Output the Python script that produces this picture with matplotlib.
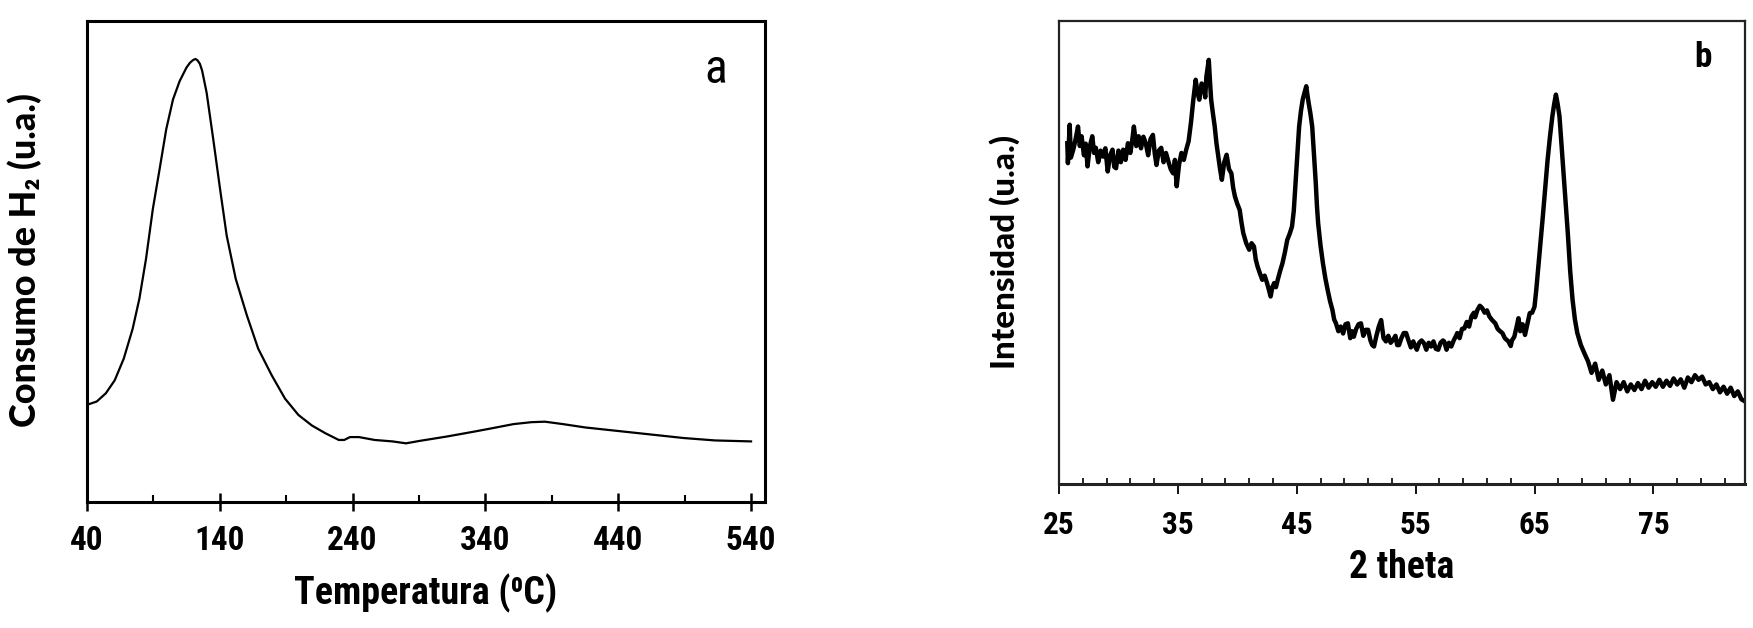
import matplotlib
matplotlib.use("Agg")
import matplotlib.pyplot as plt
from matplotlib import font_manager as fm
from matplotlib.ft2font import FT2Font
from matplotlib.textpath import TextPath
from matplotlib.ticker import MultipleLocator

# (a) TPR: temperatura (C) vs consumo de H2 (u.a.)
temp = [40, 47.4, 54.2, 60.9, 67.7, 74.4, 79.5, 84.5, 89.6, 94.7, 99.7, 104.8,
        109.8, 114.9, 117.5, 120, 121.7, 123.3, 125, 126.7, 130.1, 135.1, 140.2,
        145.2, 152, 160.4, 168.9, 179, 189.1, 199.2, 209.4, 219.5, 229.6, 233.7,
        238, 244.8, 256.6, 270.1, 280.2, 290.3, 310.6, 330.8, 344.3, 361.2,
        374.7, 384.8, 398.3, 415.2, 438.8, 465.8, 489.4, 513, 540]
h2 = [0.202, 0.209, 0.226, 0.253, 0.298, 0.360, 0.423, 0.506, 0.609, 0.692,
      0.775, 0.837, 0.875, 0.903, 0.913, 0.919, 0.921, 0.918, 0.911, 0.897,
      0.851, 0.754, 0.651, 0.554, 0.464, 0.388, 0.319, 0.264, 0.215, 0.181,
      0.159, 0.143, 0.129, 0.129, 0.135, 0.135, 0.129, 0.126, 0.122, 0.127,
      0.136, 0.146, 0.153, 0.162, 0.166, 0.167, 0.162, 0.155, 0.148, 0.140,
      0.133, 0.128, 0.126]

# (b) DRX: 2 theta vs intensidad (u.a.)
two_theta = [25.7, 25.75, 25.9, 26.0, 26.2, 26.4, 26.6, 26.75, 26.9, 27.1, 27.25,
             27.4, 27.6, 27.8, 27.95, 28.1, 28.3, 28.5, 28.7, 28.9, 29.1, 29.3,
             29.5, 29.65, 29.8, 30.0, 30.2, 30.4, 30.6, 30.8, 31.0, 31.15, 31.3,
             31.5, 31.7, 31.9, 32.1, 32.3, 32.5, 32.7, 32.9, 33.05, 33.2, 33.4,
             33.6, 33.8, 34.0, 34.2, 34.4, 34.6, 34.75, 34.9, 35.1, 35.3, 35.5,
             35.7, 35.9, 36.1, 36.3, 36.5, 36.65, 36.8, 37.0, 37.2, 37.3, 37.4,
             37.6, 37.7, 37.8, 37.95, 38.1, 38.25, 38.4, 38.55, 38.7, 38.9, 39.1,
             39.3, 39.5, 39.65, 39.8, 40.0, 40.2, 40.35, 40.5, 40.75, 41.0, 41.2,
             41.4, 41.55, 41.7, 41.9, 42.1, 42.3, 42.5, 42.65, 42.8, 42.95, 43.1,
             43.25, 43.4, 43.6, 43.8, 44.0, 44.2, 44.4, 44.6, 44.75, 44.9, 45.05,
             45.2, 45.35, 45.5, 45.65, 45.8, 45.9, 46.0, 46.15, 46.3, 46.45, 46.6,
             46.7, 46.8, 47.0, 47.2, 47.4, 47.6, 47.8, 48.0, 48.15, 48.3, 48.5,
             48.7, 48.9, 49.1, 49.3, 49.5, 49.65, 49.8, 50.0, 50.2, 50.4, 50.6,
             50.8, 51.0, 51.2, 51.35, 51.5, 51.7, 51.9, 52.1, 52.3, 52.5, 52.7,
             52.9, 53.1, 53.3, 53.45, 53.6, 53.8, 54.0, 54.2, 54.4, 54.6, 54.8,
             55.0, 55.1, 55.3, 55.5, 55.7, 55.9, 56.1, 56.3, 56.5, 56.7, 56.9,
             57.1, 57.3, 57.4, 57.6, 57.8, 58.0, 58.2, 58.4, 58.5, 58.7, 58.9,
             59.1, 59.3, 59.5, 59.7, 59.9, 60.0, 60.2, 60.4, 60.6, 60.8, 61.0,
             61.2, 61.4, 61.7, 61.9, 62.1, 62.3, 62.5, 62.8, 63.0, 63.1, 63.3,
             63.5, 63.65, 63.8, 64.0, 64.2, 64.4, 64.6, 64.8, 65.0, 65.15, 65.3,
             65.5, 65.7, 65.9, 66.1, 66.3, 66.5, 66.65, 66.8, 66.95, 67.1, 67.25,
             67.4, 67.6, 67.8, 68.0, 68.2, 68.4, 68.6, 68.9, 69.2, 69.5, 69.8,
             70.1, 70.4, 70.7, 71.0, 71.3, 71.6, 71.9, 72.2, 72.5, 72.8, 73.1,
             73.4, 73.7, 74.0, 74.3, 74.6, 74.9, 75.2, 75.5, 75.8, 76.1, 76.4,
             76.7, 77.0, 77.3, 77.6, 77.9, 78.2, 78.5, 78.8, 79.1, 79.4, 79.7,
             80.0, 80.3, 80.6, 80.9, 81.2, 81.5, 81.8, 82.1, 82.4, 82.6]
intensidad = [73.6, 69.3, 77.6, 70.5, 72.2, 74.5, 77.2, 73.0, 75.1, 71.0, 73.5,
              68.6, 73.0, 75.1, 71.5, 72.6, 69.5, 72.0, 70.7, 72.5, 67.5, 71.0,
              72.2, 68.5, 68.2, 72.0, 69.5, 72.2, 70.0, 73.6, 71.5, 74.0, 77.2,
              73.0, 75.1, 72.5, 75.0, 73.6, 71.0, 74.5, 75.4, 71.5, 68.9, 72.0,
              72.6, 69.5, 71.5, 69.7, 68.0, 67.1, 70.0, 64.3, 69.0, 71.5, 70.0,
              72.2, 74.0, 78.0, 83.0, 87.3, 84.5, 83.0, 86.5, 85.5, 83.5, 88.0,
              91.6, 87.0, 83.0, 80.0, 77.2, 73.5, 70.7, 68.0, 65.7, 69.5, 71.1,
              68.0, 67.1, 64.0, 62.1, 60.5, 59.2, 56.5, 54.2, 52.0, 50.6, 52.0,
              51.3, 48.5, 47.0, 45.5, 44.1, 45.0, 43.4, 42.0, 40.5, 42.5, 43.4,
              42.5, 44.1, 46.0, 47.7, 50.0, 52.7, 54.0, 55.6, 59.0, 65.0, 71.0,
              77.2, 80.5, 83.0, 84.5, 85.9, 84.0, 82.3, 80.0, 77.2, 71.0, 65.0,
              60.0, 56.3, 51.5, 47.7, 44.5, 41.9, 39.5, 37.6, 35.5, 34.7, 33.0,
              34.0, 32.5, 34.5, 34.7, 31.5, 33.0, 31.8, 33.5, 34.5, 34.7, 32.0,
              33.3, 33.3, 31.0, 30.0, 29.7, 32.0, 34.0, 35.4, 31.5, 30.8, 32.0,
              30.5, 31.1, 32.0, 30.0, 30.0, 31.5, 32.6, 32.6, 31.0, 29.5, 30.8,
              29.5, 29.0, 30.5, 31.0, 30.4, 29.0, 30.5, 29.7, 30.8, 29.2, 29.0,
              30.5, 31.0, 30.8, 29.0, 30.5, 29.7, 31.0, 32.0, 32.6, 31.5, 33.5,
              33.6, 35.0, 34.0, 36.2, 37.0, 36.0, 37.6, 38.5, 38.0, 37.0, 37.5,
              36.2, 35.5, 34.7, 33.5, 33.0, 32.6, 31.5, 30.8, 29.8, 31.0, 31.8,
              34.0, 35.8, 33.0, 34.5, 32.2, 34.5, 36.9, 37.0, 38.3, 42.0, 46.3,
              52.0, 57.8, 64.0, 70.0, 75.0, 79.4, 82.0, 84.1, 82.0, 79.4, 74.0,
              68.6, 61.5, 54.2, 46.0, 39.8, 35.5, 32.6, 30.0, 28.2, 26.5, 24.0,
              26.0, 22.5, 24.5, 21.5, 23.5, 18.2, 22.0, 20.5, 22.0, 20.0, 21.5,
              20.3, 21.8, 20.5, 22.3, 20.8, 22.0, 21.0, 22.5, 21.0, 22.3, 21.2,
              22.8, 21.5, 22.6, 20.8, 23.0, 22.0, 23.5, 22.5, 23.2, 21.5, 22.0,
              20.5, 21.5, 19.8, 21.0, 19.5, 20.8, 19.0, 20.0, 18.3, 18.0]


def _w(f):
    w = f.weight
    return w if isinstance(w, int) else fm.weight_dict.get(w, 400)


def buscar_fuente(candidatos, negrita, estrecha):
    """devuelve la ruta del primer archivo que cumple"""
    for nombre, necesita_stretch in candidatos:
        for f in fm.fontManager.ttflist:
            if f.name != nombre or f.style != 'normal':
                continue
            if negrita and _w(f) < 650:
                continue
            if not negrita and not (350 <= _w(f) <= 500):
                continue
            st = str(f.stretch)
            if necesita_stretch and st not in ('condensed', 'semi-condensed', '500', '625', '75', '87.5'):
                continue
            if not necesita_stretch and not estrecha and st not in ('normal', '100', '400'):
                continue
            return f.fname
    return None


narrow_cands = [('Liberation Sans Narrow', False), ('Roboto Condensed', False),
                ('Noto Sans Condensed', False), ('Open Sans Condensed', False),
                ('DejaVu Sans Condensed', False), ('Noto Sans', True),
                ('DejaVu Sans', True), ('Open Sans', True),
                ('Liberation Sans', False), ('DejaVu Sans', False)]
wide_cands = [('Lato', False), ('Open Sans', False), ('Noto Sans', False),
              ('Roboto', False), ('Liberation Sans', False), ('DejaVu Sans', False)]

f_narrow_b = buscar_fuente(narrow_cands, True, True)
f_narrow_r = buscar_fuente(narrow_cands, False, True)
f_wide_b = buscar_fuente(wide_cands, True, False)


def props(path, bold=True):
    if path:
        return fm.FontProperties(fname=path)
    return fm.FontProperties(family='DejaVu Sans', weight='bold' if bold else 'normal')


def tiene(path, ch):
    try:
        return FT2Font(path).get_char_index(ord(ch)) != 0
    except Exception:
        return False


fig = plt.figure(figsize=(17.53, 6.28), dpi=100)
renderer = fig.canvas.get_renderer()


def ajustar(t, largo, vertical=False):
    for _ in range(3):
        bb = t.get_window_extent(renderer)
        actual = bb.height if vertical else bb.width
        t.set_fontsize(t.get_fontsize() * largo / actual)
    return t.get_fontsize()


def size_por_alto(prop, alto_px, ch='H'):
    # alto de la letra en pixeles -> tamano en puntos
    tp = TextPath((0, 0), ch, size=100, prop=prop)
    ratio = tp.get_extents().height / 100
    return alto_px * 72 / 100 / ratio


def size_mixto(t, ancho_px, alto_px, ch='H'):
    s_w = ajustar(t, ancho_px)
    s_h = size_por_alto(props(f_narrow_b), alto_px, ch)
    s = 0.35 * s_w + 0.65 * s_h
    t.set_fontsize(s)
    return s


# panel a
ax1 = fig.add_axes([0.0496, 0.2006, 0.3868, 0.766])
ax1.plot(temp, h2, color='black', linewidth=1.6)
ax1.set_xlim(40, 550.5)
ax1.set_ylim(0, 1)
ax1.set_yticks([])
ax1.set_xticks([40, 140, 240, 340, 440, 540])
ax1.xaxis.set_minor_locator(MultipleLocator(50, offset=40))
ax1.tick_params(axis='x', which='major', direction='inout', length=13, width=1.8,
                pad=10)
ax1.tick_params(axis='x', which='minor', direction='in', length=5, width=1.5)
for sp in ax1.spines.values():
    sp.set_linewidth(2.2)

# panel b
ax2 = fig.add_axes([0.6041, 0.2293, 0.3913, 0.7373])
ax2.plot(two_theta, intensidad, color='black', linewidth=3.2)
ax2.set_xlim(25, 82.7)
ax2.set_ylim(0, 100)
ax2.set_yticks([])
ax2.set_xticks([25, 35, 45, 55, 65, 75])
ax2.xaxis.set_minor_locator(MultipleLocator(2, offset=1))
ax2.tick_params(axis='x', which='major', direction='out', length=7, width=1.3,
                pad=12)
ax2.tick_params(axis='x', which='minor', direction='in', length=4.5, width=1.2)
for sp in ax2.spines.values():
    sp.set_linewidth(1.6)
    sp.set_color('#222222')
ax2.spines['bottom'].set_linewidth(2.2)

# tamanos de las etiquetas de los ticks
tmp = fig.text(0, 0, '140', fontproperties=props(f_narrow_b), fontsize=26)
size_a = size_mixto(tmp, 44, 26, '0')
tmp.set_text('25')
size_b = size_mixto(tmp, 29, 24, '0')
tmp.remove()
for ax, s in ((ax1, size_a), (ax2, size_b)):
    for lab in ax.get_xticklabels():
        p = props(f_narrow_b)
        p.set_size(s)
        lab.set_fontproperties(p)

# letras de panel
ta = ax1.text(0.927, 0.898, 'a', transform=ax1.transAxes, ha='center', va='center',
              fontproperties=props(f_narrow_r, bold=False), fontsize=25)
ta.set_fontsize(1.3 * (0.35 * ajustar(ta, 20)
                       + 0.65 * size_por_alto(props(f_narrow_r, False), 18, 'x')))
tb = ax2.text(0.939, 0.922, 'b', transform=ax2.transAxes, ha='center', va='center',
              fontproperties=props(f_narrow_b), fontsize=24)
tb.set_fontsize(1.12 * (0.35 * ajustar(tb, 17)
                        + 0.65 * size_por_alto(props(f_narrow_b), 23, 'b')))

# titulos de los ejes
sup0 = '\u2070' if f_narrow_b and tiene(f_narrow_b, '\u2070') else r'$^{0}$'
sub2 = '\u2082' if f_wide_b and tiene(f_wide_b, '\u2082') else r'$_{2}$'

t1 = fig.text(426 / 1753, 1 - 593 / 628, 'Temperatura (' + sup0 + 'C)', ha='center',
              va='center', fontproperties=props(f_narrow_b), fontsize=27)
size_mixto(t1, 263, 27, 'T')
t2 = fig.text(1402 / 1753, 1 - 567 / 628, '2 theta', ha='center', va='center',
              fontproperties=props(f_narrow_b), fontsize=26)
size_mixto(t2, 100, 29, 'h')
t3 = fig.text(25 / 1753, 1 - 260 / 628, 'Consumo de H' + sub2 + ' (u.a.)', ha='center',
              va='center', rotation=90, fontproperties=props(f_wide_b), fontsize=22)
ajustar(t3, 334, vertical=True)
t4 = fig.text(1005 / 1753, 1 - 252 / 628, 'Intensidad (u.a.)', ha='center', va='center',
              rotation=90, fontproperties=props(f_wide_b), fontsize=19)
ajustar(t4, 234, vertical=True)

fig.savefig('out.png', dpi=100)
